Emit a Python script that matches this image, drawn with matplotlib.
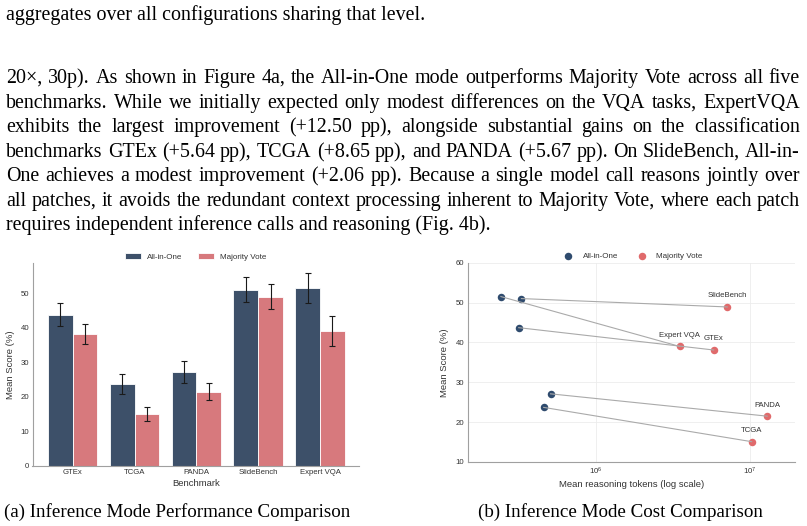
import matplotlib
matplotlib.use("Agg")
import matplotlib.pyplot as plt
import matplotlib.ticker as mticker
import numpy as np

# ---- data -------------------------------------------------------------
benchmarks = ["GTEx", "TCGA", "PANDA", "SlideBench", "Expert VQA"]
aio_score = [43.7, 23.7, 27.1, 51.0, 51.5]
aio_err = [3.3, 3.0, 3.2, 3.7, 4.4]
mv_score = [38.1, 15.1, 21.5, 48.9, 39.0]
mv_err = [2.85, 2.05, 2.45, 3.6, 4.3]
aio_tokens = [3.17e5, 4.60e5, 5.10e5, 3.30e5, 2.43e5]
mv_tokens = [5.82e6, 1.026e7, 1.295e7, 7.13e6, 3.50e6]

body_top = "aggregates over all configurations sharing that level."
body_lines = [
    "20\u00d7, 30p). As shown in Figure 4a, the All-in-One mode outperforms Majority Vote across all five",
    "benchmarks. While we initially expected only modest differences on the VQA tasks, ExpertVQA",
    "exhibits the largest improvement (+12.50 pp), alongside substantial gains on the classification",
    "benchmarks GTEx (+5.64 pp), TCGA (+8.65 pp), and PANDA (+5.67 pp). On SlideBench, All-in-",
    "One achieves a modest improvement (+2.06 pp). Because a single model call reasons jointly over",
    "all patches, it avoids the redundant context processing inherent to Majority Vote, where each patch",
    "requires independent inference calls and reasoning (Fig. 4b).",
]
caption_a = "(a) Inference Mode Performance Comparison"
caption_b = "(b) Inference Mode Cost Comparison"

C_AIO_BAR = "#3d5069"
C_MV_BAR = "#d7797d"
C_AIO_PT = "#2f4b6e"
C_MV_PT = "#e06a6b"
SPINE = "#a0a0a0"
TXT = "#333333"

W, H = 807, 526
plt.rcParams["font.family"] = ["Liberation Sans", "DejaVu Sans"]

fig = plt.figure(figsize=(W / 100, H / 100), dpi=100)
renderer = fig.canvas.get_renderer()

SERIF = dict(family=["Liberation Serif", "DejaVu Serif"], fontsize=14.4, color="black")
CAPTION = dict(SERIF, fontsize=13.7)


def put_text(s, x_px, y_px, **kw):
    return fig.text(x_px / W, 1 - y_px / H, s, va="baseline", **kw)


def justify(s, y_px, x0=6, x1=800):
    words = s.split(" ")
    widths = []
    for w in words:
        t = fig.text(0, 0, w, **SERIF)
        widths.append(t.get_window_extent(renderer).width)
        t.remove()
    gap = (x1 - x0 - sum(widths)) / (len(words) - 1)
    x = x0
    for w, wd in zip(words, widths):
        put_text(w, x, y_px, **SERIF)
        x += wd + gap


# ---- body text ----------------------------------------------------------
put_text(body_top, 6, 20, **SERIF)
baselines = [83, 108, 132, 157, 181, 206, 230]
for i, (line, yb) in enumerate(zip(body_lines, baselines)):
    if i == len(body_lines) - 1:
        put_text(line, 6, yb, **SERIF)
    else:
        justify(line, yb)

put_text(caption_a, 177, 517, ha="center", **CAPTION)
put_text(caption_b, 620, 517, ha="center", **CAPTION)


def style_axes(ax):
    for side in ("top", "right"):
        ax.spines[side].set_visible(False)
    for side in ("left", "bottom"):
        ax.spines[side].set_color(SPINE)
        ax.spines[side].set_linewidth(0.8)
    ax.tick_params(length=0, pad=2.5, labelsize=5.6, colors=TXT)


# ---- (a) bar chart -------------------------------------------------------
ax = fig.add_axes([32.5 / W, 1 - 466 / H, 326.5 / W, 203 / H])
x = np.arange(len(benchmarks))
bw = 0.4
ax.bar(x - bw / 2, aio_score, width=bw, color=C_AIO_BAR, edgecolor="white",
       linewidth=0.6, label="All-in-One", zorder=2)
ax.bar(x + bw / 2, mv_score, width=bw, color=C_MV_BAR, edgecolor="white",
       linewidth=0.6, label="Majority Vote", zorder=2)
ax.errorbar(x - bw / 2, aio_score, yerr=aio_err, fmt="none", ecolor="#1a1a1a",
            elinewidth=0.8, capsize=2.2, capthick=0.8, zorder=3)
ax.errorbar(x + bw / 2, mv_score, yerr=mv_err, fmt="none", ecolor="#1a1a1a",
            elinewidth=0.8, capsize=2.2, capthick=0.8, zorder=3)
ax.set_xlim(-0.65, 4.63)
ax.set_ylim(0, 58.7)
ax.set_yticks([0, 10, 20, 30, 40, 50])
ax.set_xticks(x)
ax.set_xticklabels(benchmarks)
ax.set_xlabel("Benchmark", fontsize=6.8, color=TXT, labelpad=1.5)
ax.set_ylabel("Mean Score (%)", fontsize=6.8, color=TXT, labelpad=4)
style_axes(ax)
ax.legend(loc="lower center", bbox_to_anchor=(0.5, 0.995), ncol=2, frameon=False,
          fontsize=5.8, handlelength=1.9, handleheight=0.6, handletextpad=0.75,
          columnspacing=2.0, borderaxespad=0.0, labelcolor=TXT)

# ---- (b) cost scatter ----------------------------------------------------
bx = fig.add_axes([467.7 / W, 1 - 462 / H, 327.3 / W, 199.3 / H])
bx.set_xscale("log")
for i, name in enumerate(benchmarks):
    bx.plot([aio_tokens[i], mv_tokens[i]], [aio_score[i], mv_score[i]],
            color="#aaaaaa", lw=0.8, zorder=3)
    bx.annotate(name, (mv_tokens[i], mv_score[i]), xytext=(0, 5.5),
                textcoords="offset points", ha="center", va="bottom",
                fontsize=5.6, color=TXT)
bx.plot(aio_tokens, aio_score, "o", ms=5.4, color=C_AIO_PT, mec="none",
        label="All-in-One", zorder=2)
bx.plot(mv_tokens, mv_score, "o", ms=5.4, color=C_MV_PT, mec="none",
        label="Majority Vote", zorder=2)
bx.set_xlim(1.48e5, 1.96e7)
bx.set_ylim(10, 60)
bx.set_yticks([10, 20, 30, 40, 50, 60])
bx.xaxis.set_major_locator(mticker.LogLocator(base=10.0))
bx.xaxis.set_minor_locator(mticker.NullLocator())
bx.grid(True, which="major", color="#ececec", lw=0.6, zorder=0)
bx.set_axisbelow(True)
bx.set_xlabel("Mean reasoning tokens (log scale)", fontsize=6.8, color=TXT, labelpad=2)
bx.set_ylabel("Mean Score (%)", fontsize=6.8, color=TXT, labelpad=5)
style_axes(bx)
bx.legend(loc="lower center", bbox_to_anchor=(0.5, 0.995), ncol=2, frameon=False,
          fontsize=5.8, handlelength=2.0, handletextpad=0.8, columnspacing=1.9,
          borderaxespad=0.0, labelcolor=TXT)

fig.savefig("out.png", dpi=100)
